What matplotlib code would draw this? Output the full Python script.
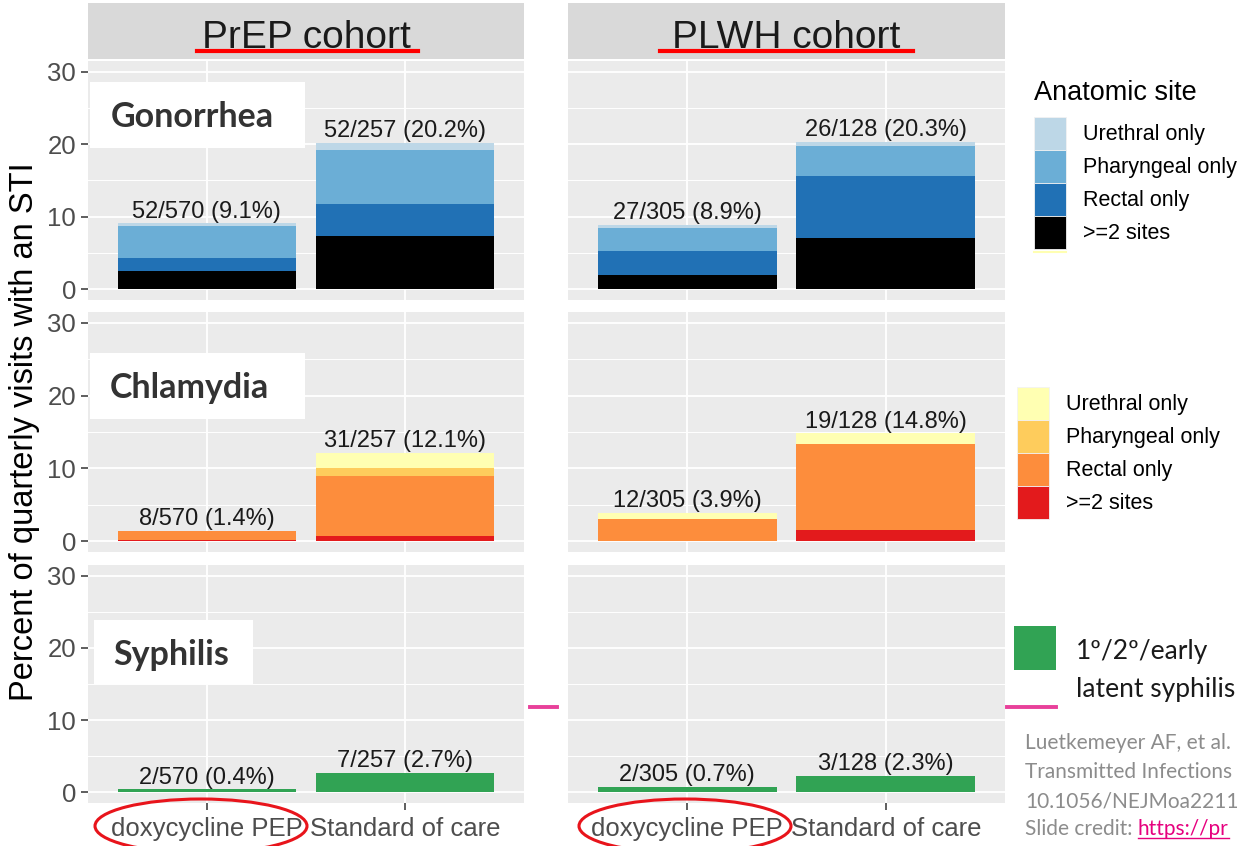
import numpy as np
import matplotlib
matplotlib.use("Agg")
import matplotlib.pyplot as plt
from matplotlib.patches import Patch, Rectangle, Ellipse
from matplotlib.lines import Line2D

plt.rcParams['font.family'] = ['Liberation Sans', 'DejaVu Sans']

# ===================== data =====================
cohorts = ["PrEP cohort", "PLWH cohort"]
arms = ["doxycycline PEP", "Standard of care"]
infections = ["Gonorrhea", "Chlamydia", "Syphilis"]
sites = ["Urethral only", "Pharyngeal only", "Rectal only", ">=2 sites"]

# percent of quarterly visits, [cohort][arm]
gono_multi = [[2.5, 7.4], [1.9, 7.0]]
gono_rectal = [[1.85, 4.3], [3.4, 8.6]]
gono_pharyngeal = [[4.35, 7.45], [3.2, 4.1]]
gono_urethral = [[0.4, 1.05], [0.4, 0.6]]

chla_multi = [[0.2, 0.75], [0.0, 1.5]]
chla_rectal = [[1.2, 8.2], [3.0, 11.8]]
chla_pharyngeal = [[0.0, 1.15], [0.1, 0.0]]
chla_urethral = [[0.0, 2.0], [0.8, 1.5]]

syph_early = [[0.4, 2.7], [0.7, 2.3]]

gono_labels = [["52/570 (9.1%)", "52/257 (20.2%)"], ["27/305 (8.9%)", "26/128 (20.3%)"]]
chla_labels = [["8/570 (1.4%)", "31/257 (12.1%)"], ["12/305 (3.9%)", "19/128 (14.8%)"]]
syph_labels = [["2/570 (0.4%)", "7/257 (2.7%)"], ["2/305 (0.7%)", "3/128 (2.3%)"]]

# colours, same order as sites (urethral ... >=2)
GONO_COLORS = ["#BDD7E7", "#6BAED6", "#2171B5", "#000000"]
CHLA_COLORS = ["#FFFFB2", "#FECC5C", "#FD8D3C", "#E31A1C"]
SYPH_COLOR = "#31A354"

cite_lines = ["Luetkemeyer AF, et al.",
              "Transmitted Infections",
              "10.1056/NEJMoa2211"]

# ===================== layout =====================
W, H = 1245, 846
fig = plt.figure(figsize=(W / 100, H / 100), dpi=100)


def fx(px):
    return px / W


def fy(py):
    return 1 - py / H


col_px = [(88, 524), (568, 1005)]
row_px = [(61, 300), (312, 552), (565, 803)]

stacks = {
    "Gonorrhea": ([gono_multi, gono_rectal, gono_pharyngeal, gono_urethral], GONO_COLORS[::-1], gono_labels),
    "Chlamydia": ([chla_multi, chla_rectal, chla_pharyngeal, chla_urethral], CHLA_COLORS[::-1], chla_labels),
    "Syphilis": ([syph_early], [SYPH_COLOR], syph_labels),
}

x = np.arange(1, len(arms) + 1)

for r, inf in enumerate(infections):
    layers, colors, labels = stacks[inf]
    for c, cohort in enumerate(cohorts):
        x0, x1 = col_px[c]
        y0, y1 = row_px[r]
        ax = fig.add_axes([fx(x0), fy(y1), (x1 - x0) / W, (y1 - y0) / H])
        ax.set_facecolor("#EBEBEB")
        for s in ax.spines.values():
            s.set_visible(False)
        ax.set_xlim(0.4, 2.6)
        ax.set_ylim(-1.5, 31.5)
        ax.set_yticks([0, 10, 20, 30])
        ax.set_yticks([5, 15, 25], minor=True)
        ax.set_xticks(x)
        ax.grid(which="major", color="white", linewidth=1.3)
        ax.grid(which="minor", axis="y", color="white", linewidth=0.7)
        ax.set_axisbelow(True)
        ax.tick_params(which="minor", length=0)
        ax.tick_params(axis="both", which="major", color="#333333", length=5, width=1.1,
                       labelsize=18.5, labelcolor="#4D4D4D", pad=3.5)
        if c == 0:
            ax.set_yticklabels(["0", "10", "20", "30"])
        else:
            ax.tick_params(axis="y", length=0, labelleft=False)
        if r == len(infections) - 1:
            ax.set_xticklabels(arms)
            ax.tick_params(axis="x", pad=5)
        else:
            ax.tick_params(axis="x", length=0, labelbottom=False)

        bottom = np.zeros(len(arms))
        for layer, col in zip(layers, colors):
            vals = np.array(layer[c])
            ax.bar(x, vals, width=0.9, bottom=bottom, color=col, linewidth=0)
            bottom = bottom + vals
        for i in range(len(arms)):
            ax.annotate(labels[c][i], (x[i], bottom[i]), xytext=(0, 0.5),
                        textcoords="offset points", ha="center", va="bottom",
                        fontsize=17, color="#1A1A1A")

        if r == 0:
            sax = fig.add_axes([fx(x0), fy(59), (x1 - x0) / W, (59 - 3) / H])
            sax.set_facecolor("#D9D9D9")
            sax.set_xticks([])
            sax.set_yticks([])
            for s in sax.spines.values():
                s.set_visible(False)
            sax.text(0.5, 0.2, cohort, transform=sax.transAxes, ha="center",
                     va="baseline", fontsize=28, color="#1A1A1A")

fig.text(fx(25), fy(432), "Percent of quarterly visits with an STI", rotation=90,
         ha="center", va="center", fontsize=23.5, color="black")

# ===================== legends =====================
fig.text(fx(1034), fy(100), "Anatomic site", fontsize=19.5, ha="left", va="baseline")
leg_kw = dict(loc="upper left", frameon=False, fontsize=15.5, borderpad=0, borderaxespad=0,
              handlelength=1.49, handleheight=1.98, labelspacing=0, handletextpad=0.79)
fig.legend([Patch(facecolor=col, edgecolor="#F2F2F2", linewidth=0.6) for col in GONO_COLORS],
           sites, bbox_to_anchor=(fx(1034), fy(117)), **leg_kw)
fig.add_artist(Line2D([fx(1034), fx(1066)], [fy(252), fy(252)], color="#FFFFB2", lw=1.5))

fig.legend([Patch(facecolor=col, edgecolor="#F2F2F2", linewidth=0.6) for col in CHLA_COLORS],
           sites, bbox_to_anchor=(fx(1017), fy(387)), **leg_kw)

fig.add_artist(Rectangle((fx(1014), fy(670)), (1056 - 1014) / W, (670 - 626) / H,
                         transform=fig.transFigure, facecolor=SYPH_COLOR, edgecolor="none"))
fig.text(fx(1076), fy(659), "1º/2º/early", family=["Lato", "DejaVu Sans"], fontsize=19,
         color="#1A1A1A", va="baseline")
fig.text(fx(1076), fy(697), "latent syphilis", family=["Lato", "DejaVu Sans"], fontsize=19,
         color="#1A1A1A", va="baseline")

# ===================== slide overlays =====================
box_px = [(90, 82, 305, 148, 111, 127), (90, 353, 305, 419, 110, 398), (94, 620, 253, 684, 113, 665)]
for (bx0, by0, bx1, by1, tx, ty), inf in zip(box_px, infections):
    fig.add_artist(Rectangle((fx(bx0), fy(by1)), (bx1 - bx0) / W, (by1 - by0) / H,
                             transform=fig.transFigure, facecolor="white", edgecolor="none"))
    fig.text(fx(tx), fy(ty), inf, family=["Lato", "DejaVu Sans"], fontweight="bold",
             fontsize=24.5, color="#333333", va="baseline", ha="left")

# red underlines under the cohort titles
for ux0, ux1 in [(197, 418), (660, 913)]:
    fig.add_artist(Line2D([fx(ux0), fx(ux1)], [fy(51), fy(51)], color="#FF0000", lw=3))

# red circles around the doxy-PEP tick labels
for cx in [201, 685]:
    fig.add_artist(Ellipse((fx(cx), fy(826)), 212 / W, 54 / H, transform=fig.transFigure,
                           facecolor="none", edgecolor="#E8141B", lw=2.2))

# pink lines
for px0, px1 in [(530, 557), (1007, 1056)]:
    fig.add_artist(Line2D([fx(px0), fx(px1)], [fy(707), fy(707)], color="#E8409A", lw=2.8))

# citation
for ty, line in zip([749, 778, 807], cite_lines):
    fig.text(fx(1025), fy(ty), line, family=["Lato", "DejaVu Sans"], fontsize=15,
             color="#8C8C8C", va="baseline")
t = fig.text(fx(1025), fy(835), "Slide credit: ", family=["Lato", "DejaVu Sans"], fontsize=15,
             color="#8C8C8C", va="baseline")
renderer = fig.canvas.get_renderer()
bb = t.get_window_extent(renderer=renderer)
lx = bb.x1 / W
link = fig.text(lx, fy(835), "https://pr", family=["Lato", "DejaVu Sans"], fontsize=15,
                color="#E6007E", va="baseline")
lb = link.get_window_extent(renderer=renderer)
fig.add_artist(Line2D([lx, lb.x1 / W], [fy(838), fy(838)], color="#E6007E", lw=1))

fig.savefig("out.png", dpi=100)
